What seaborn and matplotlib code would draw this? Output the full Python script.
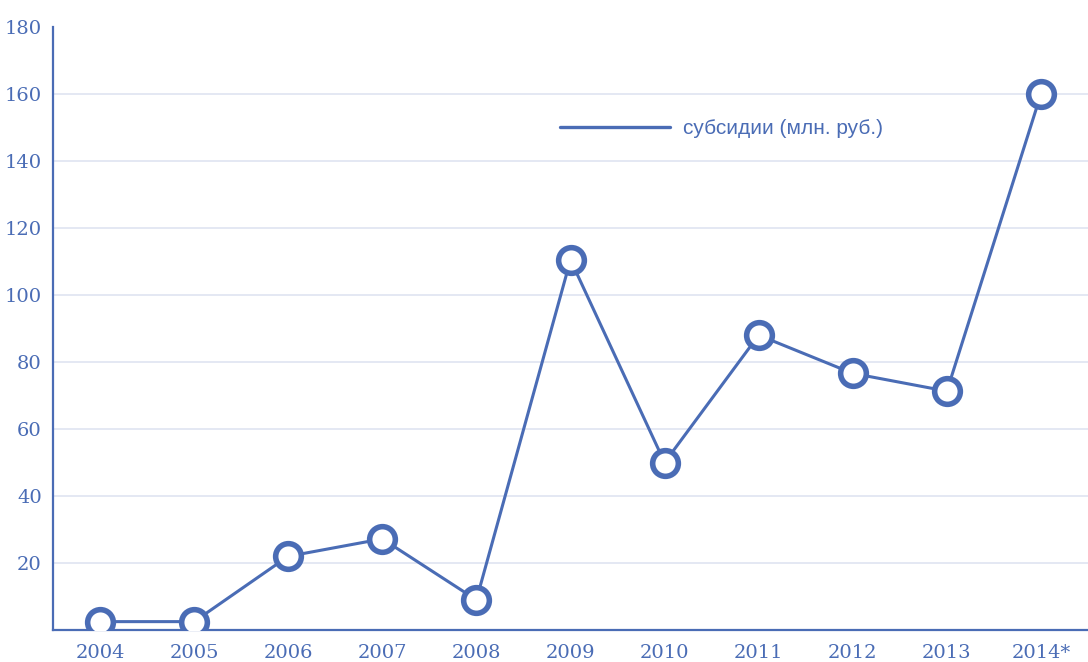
import matplotlib
matplotlib.use("Agg")
import matplotlib.pyplot as plt
from matplotlib.lines import Line2D
import seaborn as sns
import pandas as pd

years = ["2004", "2005", "2006", "2007", "2008", "2009", "2010", "2011", "2012", "2013", "2014*"]
subsidies = [2.5, 2.5, 22, 27.2, 9, 110.5, 50, 88, 76.6, 71.3, 160]
series_label = "субсидии (млн. руб.)"
y_ticks = [20, 40, 60, 80, 100, 120, 140, 160, 180]

BLUE = "#4a6cb5"
GRID = "#dfe4f1"

sns.set_theme(style="white")
plt.rcParams["font.family"] = ["DejaVu Serif"]

df = pd.DataFrame({"year": years, "value": subsidies})

fig = plt.figure(figsize=(10.88, 6.62), dpi=100)
ax = fig.add_axes([53/1088, 1 - 630/662, 1 - 53/1088, (630 - 27)/662])

sns.lineplot(data=df, x="year", y="value", ax=ax, color=BLUE, linewidth=2.2,
             marker="o", markersize=18.5, markerfacecolor="white",
             markeredgecolor=BLUE, markeredgewidth=4.0, sort=False, zorder=3)

ax.set_xlim(-0.5, len(years) - 0.5)
ax.set_ylim(0, 180)
ax.set_yticks(y_ticks)
ax.set_yticklabels([str(t) for t in y_ticks])
ax.set_xlabel("")
ax.set_ylabel("")

ax.grid(axis="y", color=GRID, linewidth=1.2, zorder=0)
ax.grid(axis="x", visible=False)
ax.get_ygridlines()[-1].set_visible(False)
ax.set_axisbelow(True)

for s in ["top", "right"]:
    ax.spines[s].set_visible(False)
for s in ["left", "bottom"]:
    ax.spines[s].set_color(BLUE)
    ax.spines[s].set_linewidth(1.6)

ax.tick_params(axis="both", length=0, colors=BLUE, labelsize=14)
ax.tick_params(axis="x", pad=10)
ax.tick_params(axis="y", pad=8)

handle = Line2D([], [], color=BLUE, linewidth=2.4)
leg = ax.legend([handle], [series_label], loc="center left",
                bbox_to_anchor=((560 - 53)/1035, (630 - 129)/603),
                frameon=False, borderpad=0, borderaxespad=0,
                handlelength=5.3, handletextpad=0.6,
                prop={"family": "Liberation Sans", "size": 15})
for t in leg.get_texts():
    t.set_color(BLUE)

fig.savefig("out.png", dpi=100)
